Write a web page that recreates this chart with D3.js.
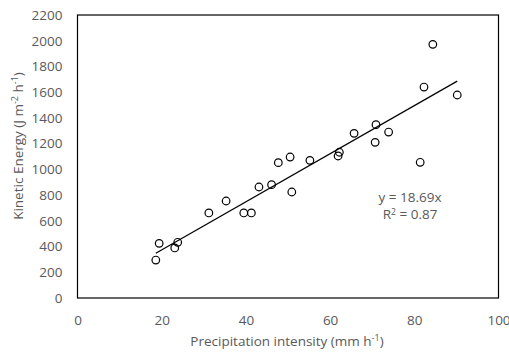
<!DOCTYPE html>
<html>
<head>
<meta charset="utf-8">
<script src="https://cdn.jsdelivr.net/npm/d3@7"></script>
<style>
  body { margin: 0; background: #fff; }
  text { font-family: "Open Sans", sans-serif; fill: #595959; }
</style>
</head>
<body>
<div id="chart"></div>
<script>
// precipitation intensity (mm h-1) and kinetic energy (J m-2 h-1)
const intensity = [18.6, 19.4, 23.1, 23.8, 31.2, 35.3, 39.5, 41.3, 43.1, 46.1, 50.9, 47.7, 55.2,
  50.5, 61.9, 62.2, 65.7, 70.9, 70.7, 73.9, 81.4, 82.3, 84.4, 90.2];
const energy = [295, 425, 389, 433, 661, 754, 661, 661, 863, 881, 824, 1052, 1070,
  1096, 1104, 1133, 1280, 1347, 1210, 1290, 1055, 1640, 1972, 1578];
const xTicks = [0, 20, 40, 60, 80, 100];
const yTicks = [0, 200, 400, 600, 800, 1000, 1200, 1400, 1600, 1800, 2000, 2200];
const slope = 18.69;
const rSquared = 0.87;

const width = 509, height = 352;
const margin = { top: 15, right: 10.5, bottom: 54, left: 77.5 };
const w = width - margin.left - margin.right;
const h = height - margin.top - margin.bottom;

const svg = d3.select("#chart").append("svg")
  .attr("width", width)
  .attr("height", height);

const g = svg.append("g")
  .attr("transform", "translate(" + margin.left + "," + margin.top + ")");

const x = d3.scaleLinear().domain([0, 100]).range([0, w]);
const y = d3.scaleLinear().domain([0, 2200]).range([h, 0]);

// axes, labels only
g.append("g")
  .attr("transform", "translate(0," + h + ")")
  .call(d3.axisBottom(x).tickValues(xTicks).tickFormat(d3.format("d")).tickSize(0).tickPadding(17))
  .call(a => a.select(".domain").remove())
  .selectAll("text")
  .style("font-size", "13.5px");

g.append("g")
  .call(d3.axisLeft(y).tickValues(yTicks).tickFormat(d3.format("d")).tickSize(0).tickPadding(15))
  .call(a => a.select(".domain").remove())
  .selectAll("text")
  .style("font-size", "13.5px");

// plot area border
g.append("rect")
  .attr("width", w)
  .attr("height", h)
  .attr("fill", "none")
  .attr("stroke", "#000")
  .attr("stroke-width", 1.2);

// linear trendline through origin
const xMin = d3.min(intensity), xMax = d3.max(intensity);
g.append("line")
  .attr("x1", x(xMin)).attr("y1", y(slope * xMin))
  .attr("x2", x(xMax)).attr("y2", y(slope * xMax))
  .attr("stroke", "#000")
  .attr("stroke-width", 1.2);

g.selectAll("circle")
  .data(intensity)
  .enter()
  .append("circle")
  .attr("cx", d => x(d))
  .attr("cy", (d, i) => y(energy[i]))
  .attr("r", 3.8)
  .attr("fill", "none")
  .attr("stroke", "#000")
  .attr("stroke-width", 1.2);

// equation label
g.append("text")
  .attr("x", x(79)).attr("y", y(747))
  .attr("text-anchor", "middle")
  .style("font-size", "13.5px")
  .text("y = " + slope + "x");
const r2 = g.append("text")
  .attr("x", x(79)).attr("y", y(612))
  .attr("text-anchor", "middle")
  .style("font-size", "13.5px");
r2.append("tspan").text("R");
r2.append("tspan").attr("dy", -4).style("font-size", "8.5px").text("2");
r2.append("tspan").attr("dy", 4).text(" = " + rSquared);

// axis titles
const xt = svg.append("text")
  .attr("x", margin.left + w / 2 - 1)
  .attr("y", 346)
  .attr("text-anchor", "middle")
  .style("font-size", "13.5px");
xt.append("tspan").text("Precipitation intensity (mm h");
xt.append("tspan").attr("dy", -5).style("font-size", "9px").text("-1");
xt.append("tspan").attr("dy", 5).text(")");

const yt = svg.append("text")
  .attr("transform", "translate(23,146) rotate(-90)")
  .attr("text-anchor", "middle")
  .style("font-size", "13.5px");
yt.append("tspan").text("Kinetic Energy (J m");
yt.append("tspan").attr("dy", -5).style("font-size", "9px").text("-2");
yt.append("tspan").attr("dy", 5).text(" h");
yt.append("tspan").attr("dy", -5).style("font-size", "9px").text("-1");
yt.append("tspan").attr("dy", 5).text(")");
</script>
</body>
</html>
